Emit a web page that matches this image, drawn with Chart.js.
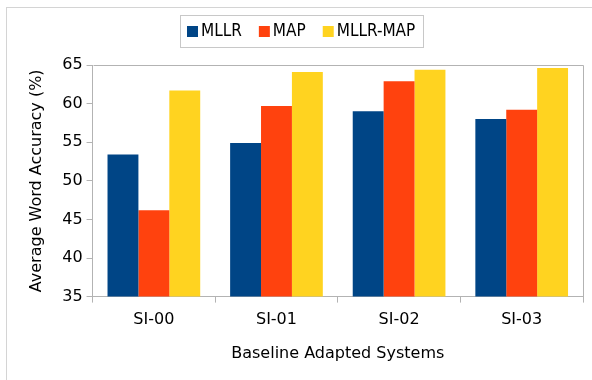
<!DOCTYPE html>
<html>
<head>
<meta charset="utf-8">
<script src="https://cdn.jsdelivr.net/npm/chart.js@4"></script>
<style>
  html, body { margin: 0; padding: 0; background: #fff; }
  #frame { position: absolute; left: 6px; top: 7px; width: 600px; height: 380px;
           border-top: 1px solid #d4d4d4; border-left: 1px solid #d4d4d4; }
  #wrap { position: absolute; left: 0; top: 0; width: 592px; height: 380px; }
</style>
</head>
<body>
<div id="frame"></div>
<div id="wrap"><canvas id="chart" width="592" height="380"></canvas></div>
<script>
// Data
const systems = ['SI-00', 'SI-01', 'SI-02', 'SI-03'];
const mllr = [53.4, 54.9, 59.0, 58.0];
const map = [46.2, 59.7, 62.9, 59.2];
const mllrMap = [61.7, 64.1, 64.4, 64.6];
const yTicks = [35, 40, 45, 50, 55, 60, 65];

const fontFamily = '"DejaVu Sans", Verdana, sans-serif';
const legendFont = '17px "DejaVu Sans Condensed", "DejaVu Sans", sans-serif';
const axisGrey = '#b3b3b3';

// grey box round the plot (top/right sides) and a boxed legend above it
const framePlugin = {
  id: 'frame',
  afterDraw(chart) {
    const ctx = chart.ctx;
    const a = chart.chartArea;
    ctx.save();
    ctx.strokeStyle = axisGrey;
    ctx.lineWidth = 1;
    ctx.beginPath();
    ctx.moveTo(Math.round(a.left) + 0.5, Math.round(a.top) + 0.5);
    ctx.lineTo(Math.round(a.right) + 0.5, Math.round(a.top) + 0.5);
    ctx.lineTo(Math.round(a.right) + 0.5, Math.round(a.bottom) + 0.5);
    ctx.stroke();

    // legend
    ctx.font = legendFont;
    const items = chart.data.datasets.map(ds => ({
      label: ds.label, color: ds.backgroundColor, w: ctx.measureText(ds.label).width
    }));
    const sq = 11, gapText = 3, gapItem = 17, padL = 7, padR = 8;
    let total = padL + padR;
    items.forEach((it, i) => { total += sq + gapText + it.w + (i ? gapItem : 0); });
    const cx = 301.5, top = 15, h = 32;
    let x = Math.round(cx - total / 2);
    ctx.strokeStyle = '#c8c8c8';
    ctx.strokeRect(x + 0.5, top + 0.5, Math.round(total), h);
    x += padL;
    const midY = top + h / 2 + 0.5;
    ctx.textBaseline = 'middle';
    items.forEach((it, i) => {
      if (i) x += gapItem;
      ctx.fillStyle = it.color;
      ctx.fillRect(x, Math.round(midY - sq / 2), sq, sq);
      x += sq + gapText;
      ctx.fillStyle = '#000';
      ctx.fillText(it.label, x, midY);
      x += it.w;
    });
    ctx.restore();
  }
};

new Chart(document.getElementById('chart'), {
  type: 'bar',
  data: {
    labels: systems,
    datasets: [
      { label: 'MLLR', data: mllr, backgroundColor: '#004586' },
      { label: 'MAP', data: map, backgroundColor: '#ff420e' },
      { label: 'MLLR-MAP', data: mllrMap, backgroundColor: '#ffd320' }
    ]
  },
  options: {
    responsive: false,
    animation: false,
    layout: { padding: { left: 23, right: 9, top: 65, bottom: 17 } },
    datasets: { bar: { barPercentage: 1, categoryPercentage: 0.756 } },
    plugins: {
      tooltip: { enabled: false },
      legend: { display: false }
    },
    scales: {
      x: {
        grid: { offset: true, drawOnChartArea: false, color: axisGrey, tickLength: 6 },
        border: { color: axisGrey },
        ticks: { color: '#000', font: { family: fontFamily, size: 16 }, padding: 8 },
        title: { display: true, text: 'Baseline Adapted Systems', color: '#000',
                 font: { family: fontFamily, size: 16 }, padding: { top: 6, bottom: 0 } }
      },
      y: {
        min: 35,
        max: 65,
        afterBuildTicks(axis) { axis.ticks = yTicks.map(v => ({ value: v })); },
        grid: { drawOnChartArea: false, color: axisGrey, tickLength: 6 },
        border: { color: axisGrey },
        ticks: { color: '#000', font: { family: fontFamily, size: 16 }, padding: 4 },
        title: { display: true, text: 'Average Word Accuracy (%)', color: '#000',
                 font: { family: fontFamily, size: 16 }, padding: { top: 4, bottom: 12 } }
      }
    }
  },
  plugins: [framePlugin]
});
</script>
</body>
</html>
